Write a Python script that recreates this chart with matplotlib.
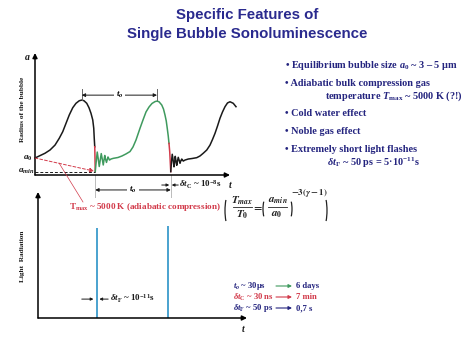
import matplotlib.pyplot as plt
from matplotlib.patches import Arc

plt.rcParams['font.family'] = ['Liberation Serif', 'DejaVu Serif']
plt.rcParams['font.weight'] = 'bold'
plt.rcParams['mathtext.fontset'] = 'custom'
plt.rcParams['mathtext.rm'] = 'Liberation Serif:bold'
plt.rcParams['mathtext.it'] = 'Liberation Serif:italic:bold'
plt.rcParams['mathtext.bf'] = 'Liberation Serif:bold'

# bubble radius a/a0 against time (microseconds)
expand_t = [0, 2.0, 4.0, 6.0, 8.0, 9.7, 11.1, 12.4, 13.7, 15.1, 16.4, 17.7, 18.7,
            19.6, 20.7, 21.6, 22.4, 23.1, 23.5, 23.7, 23.9]
expand_a = [1.00, 1.14, 1.28, 1.47, 1.76, 2.16, 2.55, 3.04, 3.53, 3.96, 4.22, 4.37, 4.41,
            4.37, 4.22, 3.96, 3.63, 3.24, 2.75, 2.16, 1.66]
collapse1_t = [23.9, 24.0, 24.1]
collapse1_a = [1.66, 0.98, 0.2]
cycle_t = [24.1, 24.5, 24.9, 25.3, 25.7, 26.1, 26.5, 26.9, 27.3, 27.6,
           27.9, 28.2, 28.6, 28.9, 29.2, 29.5, 29.8, 30.4, 31.3, 33.2,
           34.8, 36.4, 38.0, 39.2, 40.4, 42.0, 43.2, 44.4, 45.6, 46.8,
           48.0, 48.8, 49.6, 50.7, 51.4, 52.0, 52.5, 52.9, 53.3, 53.6]
cycle_a = [0.2, 0.82, 1.35, 0.94, 0.50, 0.88, 1.26, 0.94, 0.59, 0.88,
           1.15, 0.94, 0.74, 0.91, 1.06, 0.97, 0.88, 0.94, 0.98, 1.03,
           1.12, 1.24, 1.38, 1.65, 2.06, 2.75, 3.24, 3.71, 4.0, 4.21,
           4.32, 4.35, 4.31, 4.12, 3.88, 3.53, 3.18, 2.75, 2.29, 1.86]
collapse2_t = [53.6, 53.9, 54.1, 54.3]
collapse2_a = [1.86, 1.35, 0.76, 0.2]
after_t = [54.3, 54.6, 54.9, 55.3, 55.6, 55.9, 56.1, 56.4, 56.7, 57.0,
           57.3, 57.7, 58.0, 58.3, 58.7, 59.0, 59.3, 60.0, 61.3, 62.8,
           64.7, 66.0, 67.3, 68.7, 70.0, 71.0, 72.0, 73.0, 74.0, 75.0,
           76.0, 77.0, 78.0, 79.3, 80.4]
after_a = [0.2, 0.80, 1.22, 0.82, 0.48, 0.82, 1.10, 0.82, 0.57, 0.82,
           1.04, 0.85, 0.69, 0.82, 0.94, 0.88, 0.82, 0.88, 0.94, 0.97,
           1.02, 1.12, 1.28, 1.47, 1.76, 2.09, 2.45, 2.88, 3.34, 3.71,
           4.02, 4.24, 4.31, 4.22, 4.02]
a_0 = 1.0
a_min = 0.2
peak_t = [18.7, 48.8]

# light flashes at the collapses
flash_t = [24.1, 54.3]
flash_i = [1.0, 1.02]

bullets = ['\u2022 Equilibrium bubble size $a_0$ ~ 3 \u2013 5 \u03bcm',
           '\u2022 Adiabatic bulk compression gas',
           'temperature $T_{\\rm max}$ ~ 5000 K (?!)',
           '\u2022 Cold water effect',
           '\u2022 Noble gas effect',
           '\u2022 Extremely short light flashes',
           '$\\delta t_{\\rm F}$ ~ 50 ps = 5\u00b710$^{-11}$s']
scales_left = ['$t_o$ ~ 30\u03bcs', '$\\delta t_{\\rm C}$ ~ 30 ns', '$\\delta t_{\\rm F}$ ~ 50 ps']
scales_right = ['6 days', '7 min', '0,7 s']

navy = '#24247f'
red = '#d23a4a'
green = '#3f9a5e'
blue = '#3b9bcc'
black = '#1a1a1a'

W, H = 474, 355
fig = plt.figure(figsize=(W / 100, H / 100), dpi=100)


def box(x0, y0, x1, y1):
    return [x0 / W, 1 - y1 / H, (x1 - x0) / W, (y1 - y0) / H]


ax1 = fig.add_axes(box(35, 53, 230, 175))
ax2 = fig.add_axes(box(38, 192, 247, 318))
ov = fig.add_axes([0, 0, 1, 1])
ov.set_xlim(0, W)
ov.set_ylim(H, 0)
ov.set_axis_off()

ax1.set_xlim(0, 78)
ax1.set_ylim(0, 7.18)
ax2.set_xlim(-0.51, 87.4)
ax2.set_ylim(0, 1.4)

for ax in (ax1, ax2):
    ax.set_axis_off()
    for end in [(1, 0), (0, 1)]:
        ax.annotate('', xy=end, xytext=(0, 0), xycoords='axes fraction',
                    arrowprops=dict(arrowstyle='-|>', color='k', lw=1.1,
                                    mutation_scale=7, shrinkA=0, shrinkB=0))

# radius curve
kw = dict(lw=1.1, clip_on=False, solid_joinstyle='round')
ax1.plot(expand_t, expand_a, color=black, **kw)
ax1.plot(collapse1_t, collapse1_a, color=red, **kw)
ax1.plot(cycle_t, cycle_a, color=green, **kw)
ax1.plot(collapse2_t, collapse2_a, color=red, **kw)
ax1.plot(after_t, after_a, color=black, **kw)

# a_min and compression guide
ax1.plot([0, collapse1_t[-1]], [a_min, a_min], color=black, lw=0.7, ls=(0, (3, 2)))
ax1.annotate('', xy=(collapse1_t[-1] - 0.5, a_min + 0.03), xytext=(0, a_0),
             arrowprops=dict(arrowstyle='-|>', color=red, lw=0.7, ls=(0, (3, 2)),
                             mutation_scale=6, shrinkA=0, shrinkB=0))

# period between maxima
y_top = 4.7
for pt in peak_t:
    ax1.plot([pt, pt], [4.41, 5.05], color='#666666', lw=0.7)
ax1.annotate('', xy=(peak_t[0], y_top), xytext=(peak_t[1], y_top),
             arrowprops=dict(arrowstyle='<|-|>', color=black, lw=0.7,
                             mutation_scale=5, shrinkA=0, shrinkB=0))
ax1.text(sum(peak_t) / 2, y_top, '$t_o$', ha='center', va='center', fontsize=6.5,
         bbox=dict(fc='white', ec='none', pad=1.5))

# period between collapses
y_bot = -0.88
t_c = [collapse1_t[-1], collapse2_t[-1]]
for tc in t_c:
    ax1.plot([tc, tc], [0, -1.3], color='#bbbbbb', lw=0.7, clip_on=False)
ax1.annotate('', xy=(t_c[0], y_bot), xytext=(t_c[1], y_bot), annotation_clip=False,
             arrowprops=dict(arrowstyle='<|-|>', color=black, lw=0.7,
                             mutation_scale=5, shrinkA=0, shrinkB=0))
ax1.text(sum(t_c) / 2, y_bot, '$t_o$', ha='center', va='center', fontsize=6.5,
         bbox=dict(fc='white', ec='none', pad=1.5))

# collapse duration
y_dc = -0.59
ax1.annotate('', xy=(t_c[1] - 0.6, y_dc), xytext=(t_c[1] - 3.6, y_dc), annotation_clip=False,
             arrowprops=dict(arrowstyle='-|>', color=black, lw=0.7,
                             mutation_scale=4, shrinkA=0, shrinkB=0))
ax1.annotate('', xy=(t_c[1] + 0.4, y_dc), xytext=(t_c[1] + 3.0, y_dc), annotation_clip=False,
             arrowprops=dict(arrowstyle='-|>', color=black, lw=0.7,
                             mutation_scale=4, shrinkA=0, shrinkB=0))
ax1.text(t_c[1] + 3.4, y_dc, '$\\delta t_{\\rm C}$ ~ 10$^{-8}$s', ha='left', va='center',
         fontsize=6.5, color=black)

ax1.text(-1.2, a_0, '$a_0$', ha='right', va='center', fontsize=6.5, color=black)
ax1.text(-0.3, a_min, '$a_{min}$', ha='right', va='center', fontsize=6.5, color=black)

# light flashes
ax2.vlines(flash_t, 0, flash_i, color=blue, lw=1.3)
y_df = 0.21
ax2.annotate('', xy=(flash_t[0] - 1.3, y_df), xytext=(flash_t[0] - 6.2, y_df),
             arrowprops=dict(arrowstyle='-|>', color=black, lw=0.7,
                             mutation_scale=4, shrinkA=0, shrinkB=0))
ax2.annotate('', xy=(flash_t[0] + 1.2, y_df), xytext=(flash_t[0] + 4.9, y_df),
             arrowprops=dict(arrowstyle='-|>', color=black, lw=0.7,
                             mutation_scale=4, shrinkA=0, shrinkB=0))
ax2.text(flash_t[0] + 5.6, y_df, '$\\delta t_{\\rm F}$ ~ 10$^{-11}$s', ha='left', va='center',
         fontsize=6.5, color=black)

# axis labels
ov.text(27, 57, '$a$', ha='center', va='center', fontsize=7, color=black)
ov.text(230, 184, '$t$', ha='center', va='center', fontsize=7, color=black)
ov.text(243, 328, '$t$', ha='center', va='center', fontsize=7, color=black)
ov.text(23, 109, 'Radius of the bubble', rotation=90, ha='center', va='center',
        fontsize=5.3, color=black)
ov.text(23, 256, 'Light  Radiation', rotation=90, ha='center', va='center',
        fontsize=5.3, color=black)

# adiabatic compression
ov.plot([59, 83], [163, 202], color=red, lw=0.5)
ov.text(145, 207, 'T$_{\\rm max}$ ~ 5000 K (adiabatic compression)', ha='center', va='center',
        fontsize=6.6, color=red)

# Tmax/T0 = (amin/a0)^(-3(gamma-1)), set piece by piece
fk = dict(ha='center', va='center', color='#222222', math_fontfamily='stix',
          fontweight='normal')
ink = '#222222'


def paren(x, y0, y1, left, depth):
    h = y1 - y0
    w = 4 * depth
    xc = x + w / 2 if left else x - w / 2
    t1, t2 = (120, 240) if left else (-60, 60)
    ov.add_patch(Arc((xc, (y0 + y1) / 2), w, h * 1.155, theta1=t1, theta2=t2,
                     lw=0.9, color=ink))


paren(225, 192, 229, True, 3.5)
paren(327, 192, 229, False, 3.5)
ov.text(242.5, 200.5, '$T_{max}$', fontsize=8, **fk)
ov.plot([233, 252], [207, 207], color=ink, lw=0.6)
ov.text(242, 215, '$T_0$', fontsize=8, **fk)
ov.text(258, 207.5, '$=$', fontsize=8, **fk)
paren(263, 197, 221, True, 2.5)
ov.text(278, 200.5, '$a_{min}$', fontsize=8, **fk)
ov.plot([268.5, 287.5], [207, 207], color=ink, lw=0.6)
ov.text(277, 215, '$a_0$', fontsize=8, **fk)
paren(292, 197, 221, False, 2.5)
ov.text(309.5, 193, '$-3(\\gamma - 1)$', fontsize=6.5, **fk)

# title
ov.text(247, 15, 'Specific Features of', ha='center', va='center', fontsize=10.8,
        family='Liberation Sans', color='#2a2a8e')
ov.text(247, 34, 'Single Bubble Sonoluminescence', ha='center', va='center', fontsize=10.8,
        family='Liberation Sans', color='#2a2a8e')

# bullet list
bullet_x = [285, 285, 325, 285, 285, 285, 327]
bullet_y = [65, 83, 96, 114, 132, 150, 163]
for x, y, s in zip(bullet_x, bullet_y, bullets):
    ov.text(x, y, s, ha='left', va='center', fontsize=7.4, color=navy)

# time scales
scale_y = [286, 297, 308]
scale_col = [(navy, green, navy), (red, red, red), (navy, navy, navy)]
for y, l, r, (c1, c2, c3) in zip(scale_y, scales_left, scales_right, scale_col):
    ov.text(233, y, l, ha='left', va='center', fontsize=6.2, color=c1)
    ov.annotate('', xy=(292, y), xytext=(276, y),
                arrowprops=dict(arrowstyle='-|>', color=c2, lw=0.8,
                                mutation_scale=5, shrinkA=0, shrinkB=0))
    ov.text(296, y, r, ha='left', va='center', fontsize=6.2, color=c3)

fig.savefig('out.png', dpi=100, facecolor='white')
